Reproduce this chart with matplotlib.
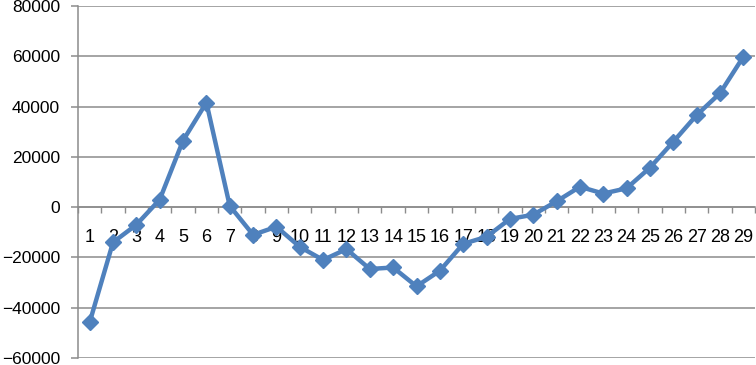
import numpy as np
import matplotlib
matplotlib.use("Agg")
import matplotlib.pyplot as plt
from matplotlib.ticker import FixedLocator

plt.rcParams['font.family'] = ['Liberation Sans', 'DejaVu Sans']

# data
cats = list(range(1, 30))
vals = [-45800, -14000, -7000, 3000, 26500, 41600, 500, -11000, -7800, -15800,
        -21000, -16700, -24600, -24000, -31500, -25300, -14600, -11800, -4700, -3000,
        2300, 8100, 5400, 7500, 15700, 26000, 36600, 45300, 59800]
yticks = [-60000, -40000, -20000, 0, 20000, 40000, 60000, 80000]

grey = '#8c8c8c'
blue = '#4f81bd'

fig = plt.figure(figsize=(7.56, 3.65), dpi=100)
ax = fig.add_axes([78/756, 1-358/365, (755-78)/756, (358-6)/365])

x = np.arange(len(cats))
ax.plot(x, vals, color=blue, lw=3.2, marker='D', ms=8.5, mec=blue, mfc=blue, zorder=3, clip_on=False)

ax.set_xlim(-0.5, len(cats)-0.5)
ax.set_ylim(yticks[0], yticks[-1])
ax.set_yticks(yticks)
ax.yaxis.grid(True, color=grey, lw=1.1)
ax.set_axisbelow(True)

for s in ['top', 'right']:
    ax.spines[s].set_visible(False)
ax.spines['left'].set_color(grey)
ax.spines['left'].set_linewidth(1.1)
ax.spines['bottom'].set_position(('data', 0))
ax.spines['bottom'].set_color(grey)
ax.spines['bottom'].set_linewidth(1.1)

ax.set_xticks(x)
ax.set_xticklabels([str(c) for c in cats])
ax.xaxis.set_minor_locator(FixedLocator(np.arange(-0.5, len(cats), 1.0)))
ax.tick_params(axis='x', which='major', length=0, pad=16, labelsize=13)
ax.tick_params(axis='x', which='minor', length=4, width=1, color=grey, direction='out')
ax.tick_params(axis='y', length=5, width=1.1, color=grey, pad=8, labelsize=12.5)

fig.savefig('out.png', dpi=100)
